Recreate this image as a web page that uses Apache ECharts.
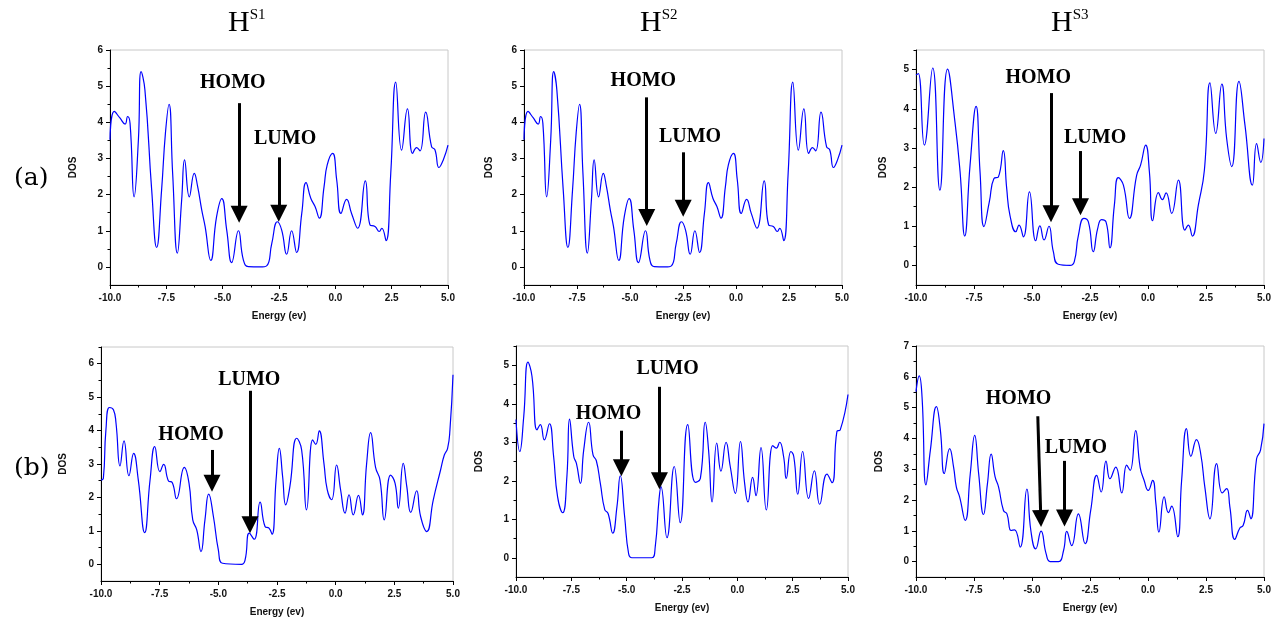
<!DOCTYPE html>
<html><head><meta charset="utf-8">
<script src="https://cdn.jsdelivr.net/npm/echarts@6/dist/echarts.min.js"></script>
<style>html,body{margin:0;padding:0;background:#fff}#c{width:1282px;height:622px}</style>
</head><body><div id="c"></div>
<script>
// ---- data: [energy (eV), DOS] ----
const dosA1 = [[-10,3.52],[-9.81,4.30],[-9.56,4.12],[-9.33,3.95],[-9.22,4.16],[-9.11,3.97],[-8.93,1.94],[-8.74,3.51],[-8.62,5.40],[-8.45,4.89],[-8.15,2.13],[-7.93,0.54],[-7.71,2.13],[-7.54,3.70],[-7.38,4.50],[-7.22,2.59],[-7.01,0.38],[-6.82,1.85],[-6.69,2.96],[-6.48,1.94],[-6.26,2.59],[-6.11,2.22],[-5.93,1.58],[-5.78,1.12],[-5.53,0.18],[-5.27,1.39],[-5.04,1.89],[-4.82,1.02],[-4.60,0.12],[-4.30,1.00],[-4.08,0.19],[-3.86,0.01],[-3.34,0],[-3.05,0.03],[-2.82,0.65],[-2.57,1.25],[-2.38,1.02],[-2.16,0.35],[-1.94,1.00],[-1.72,0.40],[-1.49,1.48],[-1.30,2.33],[-1.09,1.90],[-0.90,1.67],[-0.71,1.35],[-0.50,2.22],[-0.36,2.82],[-0.12,3.14],[0.06,2.41],[0.25,1.48],[0.50,1.87],[0.72,1.48],[0.99,1.07],[1.33,2.38],[1.54,1.16],[1.76,1.12],[1.95,0.98],[2.06,1.07],[2.25,0.73],[2.46,2.59],[2.68,5.11],[2.94,3.23],[3.20,4.37],[3.43,3.14],[3.61,3.30],[3.76,3.21],[4.01,4.28],[4.27,3.33],[4.42,3.24],[4.60,2.75],[4.79,2.96],[5.0,3.37]];
const dosA2 = [[-10,3.52],[-9.81,4.30],[-9.56,4.12],[-9.33,3.95],[-9.22,4.16],[-9.11,3.97],[-8.93,1.94],[-8.74,3.51],[-8.60,5.40],[-8.45,4.89],[-8.15,2.13],[-7.93,0.54],[-7.71,2.13],[-7.54,3.70],[-7.38,4.50],[-7.22,2.59],[-7.01,0.38],[-6.82,1.85],[-6.69,2.96],[-6.48,1.94],[-6.26,2.59],[-6.11,2.22],[-5.93,1.58],[-5.78,1.12],[-5.53,0.18],[-5.27,1.39],[-5.04,1.89],[-4.82,1.02],[-4.60,0.12],[-4.27,1.00],[-4.06,0.19],[-3.86,0.01],[-3.34,0],[-3.05,0.03],[-2.82,0.65],[-2.57,1.25],[-2.38,1.02],[-2.16,0.35],[-1.94,1.00],[-1.72,0.40],[-1.49,1.48],[-1.30,2.33],[-1.09,1.90],[-0.90,1.67],[-0.71,1.35],[-0.50,2.22],[-0.36,2.82],[-0.12,3.14],[0.06,2.41],[0.25,1.48],[0.50,1.87],[0.72,1.48],[0.99,1.07],[1.33,2.38],[1.54,1.16],[1.76,1.12],[1.95,0.98],[2.06,1.07],[2.25,0.73],[2.46,2.59],[2.68,5.11],[2.94,3.23],[3.20,4.37],[3.43,3.14],[3.61,3.30],[3.76,3.21],[4.01,4.28],[4.27,3.33],[4.42,3.24],[4.60,2.75],[4.79,2.96],[5.0,3.37]];
const dosA3 = [[-10,4.86],[-9.90,4.90],[-9.64,3.07],[-9.28,5.04],[-8.97,1.92],[-8.64,5.01],[-8.32,3.66],[-8.10,2.39],[-7.90,0.75],[-7.67,2.56],[-7.41,4.06],[-7.24,2.39],[-7.07,0.99],[-6.84,1.62],[-6.64,2.22],[-6.45,2.26],[-6.24,2.93],[-6.09,1.96],[-5.95,1.28],[-5.70,0.86],[-5.56,1.03],[-5.37,0.73],[-5.11,1.88],[-4.84,0.63],[-4.66,1.01],[-4.48,0.65],[-4.27,1.00],[-4.08,0.35],[-3.87,0.03],[-3.36,0],[-3.18,0.09],[-3.00,0.77],[-2.76,1.20],[-2.57,1.11],[-2.36,0.35],[-2.17,0.94],[-2.00,1.17],[-1.81,1.11],[-1.64,0.45],[-1.45,1.54],[-1.28,2.24],[-1.06,2.05],[-0.80,1.20],[-0.49,2.30],[-0.32,2.56],[-0.10,3.07],[0.06,2.39],[0.20,1.14],[0.45,1.86],[0.62,1.68],[0.78,1.85],[1.02,1.33],[1.31,2.18],[1.59,0.90],[1.74,1.03],[1.91,0.75],[2.17,1.54],[2.43,2.43],[2.67,4.66],[2.92,3.37],[3.18,4.63],[3.39,3.24],[3.61,2.52],[3.92,4.70],[4.18,3.58],[4.50,2.05],[4.68,3.11],[4.86,2.63],[5.0,3.24]];
const dosB1 = [[-10,2.52],[-9.90,2.57],[-9.79,4.02],[-9.64,4.69],[-9.47,4.62],[-9.36,4.22],[-9.19,2.94],[-9.02,3.69],[-8.81,2.65],[-8.61,3.32],[-8.41,2.52],[-8.14,0.95],[-7.91,2.52],[-7.71,3.52],[-7.49,2.77],[-7.33,2.99],[-7.13,2.50],[-6.96,2.44],[-6.78,1.96],[-6.45,2.90],[-6.25,2.43],[-6.09,1.33],[-5.92,1.03],[-5.74,0.38],[-5.57,1.33],[-5.41,2.10],[-5.21,1.43],[-5.00,0.43],[-4.82,0.03],[-4.01,0],[-3.86,0.13],[-3.68,0.93],[-3.47,0.75],[-3.22,1.86],[-3.01,1.13],[-2.84,1.08],[-2.71,0.90],[-2.54,2.52],[-2.40,3.47],[-2.26,2.62],[-2.13,1.78],[-1.95,2.33],[-1.66,3.77],[-1.45,3.42],[-1.24,1.63],[-0.98,3.72],[-0.85,3.59],[-0.70,3.99],[-0.50,3.02],[-0.36,2.23],[-0.17,1.93],[0.04,2.97],[0.21,2.23],[0.40,1.53],[0.57,2.08],[0.75,1.48],[0.97,2.06],[1.14,1.48],[1.32,3.02],[1.49,3.94],[1.70,2.90],[1.89,2.52],[2.07,1.33],[2.34,2.67],[2.53,2.43],[2.67,1.68],[2.88,3.02],[3.03,2.33],[3.20,1.55],[3.45,2.20],[3.62,1.43],[3.88,0.98],[4.16,1.93],[4.47,2.82],[4.63,3.27],[4.77,3.47],[4.87,4.02],[5.0,5.67]];
const dosB2 = [[-10,3.59],[-9.83,2.76],[-9.65,3.67],[-9.46,5.08],[-9.28,4.72],[-9.05,3.32],[-8.90,3.46],[-8.72,3.06],[-8.49,3.48],[-8.30,2.63],[-8.12,1.58],[-7.89,1.17],[-7.70,2.11],[-7.58,3.60],[-7.39,2.63],[-7.27,2.45],[-7.09,1.93],[-6.94,2.80],[-6.72,3.52],[-6.52,2.67],[-6.37,2.52],[-6.19,1.93],[-5.99,1.25],[-5.84,1.15],[-5.63,0.64],[-5.44,1.32],[-5.29,2.13],[-5.09,1.06],[-4.91,0.10],[-4.76,0],[-3.86,0],[-3.71,0.28],[-3.54,1.50],[-3.45,1.85],[-3.18,0.52],[-2.85,2.37],[-2.58,0.91],[-2.24,3.46],[-1.90,1.96],[-1.67,2.06],[-1.45,3.52],[-1.30,2.80],[-1.14,1.45],[-0.93,2.98],[-0.74,2.25],[-0.51,3.00],[-0.32,2.37],[-0.09,1.67],[0.14,3.02],[0.33,1.93],[0.48,1.45],[0.69,2.09],[0.84,1.61],[1.07,2.86],[1.31,1.24],[1.60,2.91],[1.76,2.85],[1.91,3.00],[2.09,2.63],[2.21,2.06],[2.42,2.76],[2.55,2.63],[2.73,1.65],[2.95,2.76],[3.22,1.54],[3.48,2.26],[3.72,1.39],[4.05,2.17],[4.28,1.95],[4.50,3.28],[4.65,3.32],[5.0,4.24]];
const dosB3 = [[-10,5.52],[-9.86,6.03],[-9.74,5.35],[-9.57,2.49],[-9.38,3.62],[-9.12,5.03],[-8.95,4.27],[-8.78,2.86],[-8.55,3.67],[-8.38,3.07],[-8.26,2.42],[-8.12,2.10],[-7.88,1.34],[-7.66,2.86],[-7.47,4.10],[-7.30,2.86],[-7.09,1.53],[-6.92,2.53],[-6.76,3.49],[-6.59,2.75],[-6.44,2.42],[-6.23,1.66],[-6.08,1.55],[-5.90,1.01],[-5.75,1.03],[-5.51,0.47],[-5.22,2.35],[-5.05,1.01],[-4.84,0.41],[-4.61,0.99],[-4.39,0.25],[-4.22,0],[-3.86,0],[-3.64,0.36],[-3.50,0.98],[-3.29,0.52],[-3.00,1.55],[-2.71,0.58],[-2.47,1.66],[-2.21,2.80],[-2.02,2.26],[-1.81,3.26],[-1.64,2.69],[-1.39,3.07],[-1.13,2.23],[-0.92,3.13],[-0.77,2.96],[-0.53,4.25],[-0.34,3.07],[-0.17,2.64],[0.01,2.31],[0.20,2.64],[0.34,1.88],[0.47,0.96],[0.70,2.10],[0.88,1.59],[1.02,1.80],[1.28,0.81],[1.45,2.64],[1.66,4.32],[1.85,3.42],[2.09,3.96],[2.27,3.51],[2.45,2.42],[2.67,1.39],[2.96,3.18],[3.20,2.23],[3.39,2.37],[3.53,1.77],[3.74,0.72],[3.96,1.09],[4.10,1.17],[4.29,1.66],[4.43,1.39],[4.68,3.34],[4.85,3.62],[5.0,4.48]];

// HOMO / LUMO arrows: label, arrow start (x0,y0), tip (x1,y1), label centre (lx,ly)
const arrowsA1 = [{t:'HOMO',x0:-4.27,y0:4.53,x1:-4.27,y1:1.22,lx:-4.55,ly:5.08},{t:'LUMO',x0:-2.51,y0:3.03,x1:-2.51,y1:1.25,lx:-2.23,ly:3.54}];
const arrowsA2 = [{t:'HOMO',x0:-4.21,y0:4.69,x1:-4.21,y1:1.13,lx:-4.37,ly:5.14},{t:'LUMO',x0:-2.49,y0:3.17,x1:-2.49,y1:1.39,lx:-2.17,ly:3.60}];
const arrowsA3 = [{t:'HOMO',x0:-4.18,y0:4.40,x1:-4.18,y1:1.10,lx:-4.73,ly:4.80},{t:'LUMO',x0:-2.91,y0:2.92,x1:-2.91,y1:1.28,lx:-2.28,ly:3.27}];
const arrowsB1 = [{t:'HOMO',x0:-5.27,y0:3.42,x1:-5.27,y1:2.17,lx:-6.16,ly:3.87},{t:'LUMO',x0:-3.65,y0:5.19,x1:-3.65,y1:0.93,lx:-3.68,ly:5.52}];
const arrowsB2 = [{t:'HOMO',x0:-5.24,y0:3.30,x1:-5.24,y1:2.12,lx:-5.82,ly:3.74},{t:'LUMO',x0:-3.52,y0:4.44,x1:-3.52,y1:1.78,lx:-3.15,ly:4.92}];
const arrowsB3 = [{t:'HOMO',x0:-4.75,y0:4.72,x1:-4.62,y1:1.12,lx:-5.58,ly:5.27},{t:'LUMO',x0:-3.60,y0:3.27,x1:-3.60,y1:1.14,lx:-3.11,ly:3.69}];

const xTicks = [-10, -7.5, -5, -2.5, 0, 2.5, 5];
const yTicksA12 = [0,1,2,3,4,5,6];
const yTicksA3 = [0,1,2,3,4,5];
const yTicksB1 = [0,1,2,3,4,5,6];
const yTicksB2 = [0,1,2,3,4,5];
const yTicksB3 = [0,1,2,3,4,5,6,7];
const panelTitles = ['S1','S2','S3'];
const rowLabels = ['(a)','(b)'];
const xName = 'Energy (ev)';
const yName = 'DOS';

// ---- layout ----
const panels = [
  {data:dosA1, arrows:arrowsA1, ticks:yTicksA12, ymax:6,   left:110, top:50,  width:338, height:235, gap:32},
  {data:dosA2, arrows:arrowsA2, ticks:yTicksA12, ymax:6,   left:524, top:50,  width:318, height:235, gap:30},
  {data:dosA3, arrows:arrowsA3, ticks:yTicksA3,  ymax:5.5, left:916, top:50,  width:348, height:235, gap:28},
  {data:dosB1, arrows:arrowsB1, ticks:yTicksB1,  ymax:6.5, left:101, top:347, width:352, height:234, gap:33},
  {data:dosB2, arrows:arrowsB2, ticks:yTicksB2,  ymax:5.5, left:516, top:346, width:332, height:231, gap:32},
  {data:dosB3, arrows:arrowsB3, ticks:yTicksB3,  ymax:7,   left:916, top:346, width:348, height:231, gap:32}
];
const YMIN = -0.5;
const SANS = 'Liberation Sans, Arial, sans-serif';
const SERIF = 'Liberation Serif, Times New Roman, serif';
const HEAD = 17;

const grid = [], xAxis = [], yAxis = [], series = [];
panels.forEach((p, i) => {
  grid.push({left:p.left, top:p.top, width:p.width, height:p.height, show:true,
    borderColor:'#c8c8c8', borderWidth:1, backgroundColor:'transparent'});
  xAxis.push({type:'value', gridIndex:i, min:-10, max:5, interval:2.5,
    name:xName, nameLocation:'middle', nameGap:26,
    nameTextStyle:{fontFamily:SANS, fontWeight:'bold', fontSize:10, color:'#111'},
    axisLine:{onZero:false, lineStyle:{color:'#000', width:1}},
    axisTick:{length:4, lineStyle:{color:'#000'}},
    minorTick:{show:true, splitNumber:2, length:2.5, lineStyle:{color:'#000'}},
    axisLabel:{margin:8, fontFamily:SANS, fontWeight:'bold', fontSize:10, color:'#111',
      formatter:v => v.toFixed(1), showMinLabel:true, showMaxLabel:true},
    splitLine:{show:false}});
  const halves = [];
  for (let v = YMIN; v <= p.ymax + 1e-9; v += 1) halves.push(v);
  yAxis.push({type:'value', gridIndex:i, min:YMIN, max:p.ymax, position:'left',
    name:yName, nameLocation:'middle', nameGap:p.gap,
    nameTextStyle:{fontFamily:SANS, fontWeight:'bold', fontSize:10, color:'#111'},
    axisLine:{show:true, onZero:false, lineStyle:{color:'#000', width:1}},
    axisTick:{show:true, length:4, customValues:p.ticks, lineStyle:{color:'#000'}},
    axisLabel:{margin:7, fontFamily:SANS, fontWeight:'bold', fontSize:10, color:'#111', customValues:p.ticks},
    splitLine:{show:false}});
  yAxis.push({type:'value', gridIndex:i, min:YMIN, max:p.ymax, position:'left',
    axisLine:{show:false, onZero:false}, axisLabel:{show:false}, splitLine:{show:false},
    axisTick:{show:true, length:2.5, customValues:halves.slice(1), lineStyle:{color:'#000'}}});
  const unit = (p.ymax - YMIN) / p.height;
  series.push({type:'line', xAxisIndex:i, yAxisIndex:2*i, data:p.data, smooth:0.5,
    showSymbol:false, symbol:'none', silent:true,
    lineStyle:{color:'#0000ff', width:1.2},
    markLine:{silent:true, symbol:['none','triangle'], symbolSize:[HEAD, HEAD], animation:false,
      lineStyle:{color:'#000', width:3, type:'solid'}, label:{show:false},
      data:p.arrows.map(a => [{coord:[a.x0, a.y0]}, {coord:[a.x1, a.y1 + (HEAD/2)*unit]}])},
    markPoint:{silent:true, symbol:'circle', symbolSize:1, itemStyle:{color:'rgba(0,0,0,0)'}, animation:false,
      label:{show:true, position:'inside', formatter:'{b}', fontFamily:SERIF, fontWeight:'bold', fontSize:20, color:'#000'},
      data:p.arrows.map(a => ({name:a.t, coord:[a.lx, a.ly]}))}
  });
});

const titleLefts = [228, 640, 1051];
const title = panelTitles.map((s, i) => ({
  text:'{h|H}{s|' + s + '}', left:titleLefts[i], top:8, padding:0,
  textStyle:{fontWeight:'normal', rich:{
    h:{fontFamily:SERIF, fontSize:30, fontWeight:'normal', color:'#000', lineHeight:30},
    s:{fontFamily:SERIF, fontSize:15, fontWeight:'normal', color:'#000', verticalAlign:'top', lineHeight:18}
  }}
}));
[178, 468].forEach((y, i) => title.push({text:rowLabels[i], left:14, top:y - 16, padding:0,
  textStyle:{fontFamily:'DejaVu Serif, serif', fontSize:25, fontWeight:'normal', color:'#000', lineHeight:32}}));

const chart = echarts.init(document.getElementById('c'), null, {renderer:'canvas'});
chart.setOption({animation:false, backgroundColor:'#fff', title, grid, xAxis, yAxis, series});
</script></body></html>
